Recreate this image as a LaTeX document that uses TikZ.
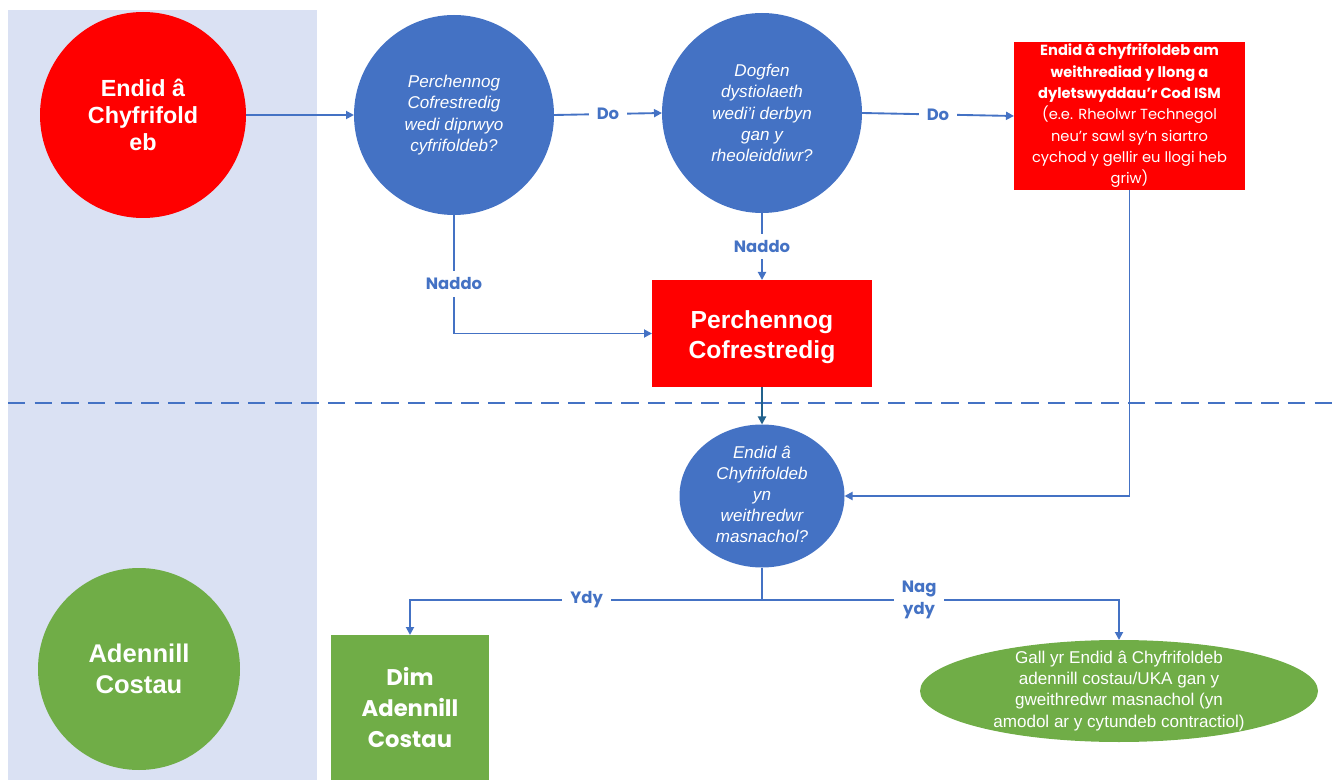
\documentclass[tikz,border=0pt]{standalone}
\usepackage{fontspec}
\setmainfont{Liberation Sans}
\newfontfamily\pop{Poppins}
\usetikzlibrary{arrows.meta,shapes.geometric}
\definecolor{cred}{HTML}{FF0000}
\definecolor{cblue}{HTML}{4472C4}
\definecolor{cgreen}{HTML}{70AD47}
\definecolor{cpanel}{HTML}{DAE1F3}
\definecolor{cteal}{HTML}{21618C}
\newcommand{\zh}[2][-3pt]{\smash{\raisebox{#1}{\begin{tabular}{@{}c@{}}#2\end{tabular}}}}
\begin{document}
\begin{tikzpicture}[x=0.75pt,y=-0.75pt,
  base/.style={inner sep=0pt, outer sep=0pt, text=white, align=center},
  redcirc/.style={base, circle, fill=cred, minimum size=154.5pt, font=\bfseries\fontsize{17.5}{20}\selectfont},
  greencirc/.style={base, circle, fill=cgreen, minimum size=151.5pt, font=\bfseries\fontsize{19.2}{23}\selectfont},
  bluecirc/.style={base, circle, fill=cblue, minimum size=150pt, font=\itshape\fontsize{12.8}{16}\selectfont},
  blueell/.style={base, ellipse, fill=cblue, minimum width=123.75pt, minimum height=107.25pt, font=\itshape\fontsize{12.8}{15.8}\selectfont},
  greenell/.style={base, ellipse, fill=cgreen, minimum width=298.5pt, minimum height=76.5pt, font=\fontsize{12.8}{16}\selectfont},
  redbox/.style={base, rectangle, fill=cred},
  greenbox/.style={base, rectangle, fill=cgreen},
  conn/.style={draw=cblue, line width=1.4pt},
  arr/.style={conn, -{Triangle[length=6pt,width=6pt]}},
  lbl/.style={fill=white, text=cblue, font=\pop\bfseries\fontsize{12.3}{17}\selectfont, inner xsep=6pt, inner ysep=5pt, align=center},
]
\useasboundingbox (0,0) rectangle (1335,780);
\fill[cpanel] (8,10) rectangle (317,780);
\draw[cblue, line width=1.2pt, dash pattern=on 13pt off 7pt] (8,403) -- (1335,403);

\node[redcirc] (ent) at (143,115) {Endid â\\Chyfrifold\\eb};
\node[bluecirc] (b1) at (454,115) {Perchennog\\Cofrestredig\\wedi diprwyo\\cyfrifoldeb?};
\node[bluecirc] (b2) at (762,113) {Dogfen\\dystiolaeth\\wedi’i derbyn\\gan y\\rheoleiddiwr?};
\node[redbox, minimum width=173.25pt, minimum height=111pt, font=\pop\fontsize{11}{16}\selectfont] (tr) at (1129.5,116)
  {\textbf{Endid â chyfrifoldeb am}\\\textbf{weithrediad y llong a}\\\textbf{dyletswyddau’r Cod ISM}\\(e.e. Rheolwr Technegol\\neu’r sawl sy’n siartro\\cychod y gellir eu llogi heb\\griw)};
\node[redbox, minimum width=165pt, minimum height=80.25pt, font=\bfseries\fontsize{18.5}{22.5}\selectfont] (pr) at (762,333.5) {\zh[-7.5pt]{Perchennog\\Cofrestredig}};
\node[blueell] (ell) at (762,496) {\zh{Endid â\\Chyfrifoldeb\\yn\\weithredwr\\masnachol?}};
\node[greencirc] (adn) at (139,669) {Adennill\\Costau};
\node[greenbox, minimum width=118.5pt, minimum height=108.75pt, font=\pop\bfseries\fontsize{17}{23}\selectfont] (dim) at (410,707.5) {Dim\\Adennill\\Costau};
\node[greenell] (gell) at (1119,691) {\zh{Gall yr Endid â Chyfrifoldeb\\adennill costau/UKA gan y\\gweithredwr masnachol (yn\\amodol ar y cytundeb contractiol)}};

\coordinate (split) at (762,600);

\draw[arr] (ent.east) -- (b1.west);
\draw[arr] (b1.east) -- node[lbl] (do1) {Do} (b2.west);
\draw[arr] (b2.east) -- node[lbl] (do2) {Do} (tr.west);
\draw[arr] (b1.south) |- node[lbl, pos=0.29] (naddo1) {Naddo} (pr.west);
\draw[arr] (b2.south) -- node[lbl] (naddo2) {Naddo} (pr.north);
\draw[draw=cteal, line width=1.4pt, -{Triangle[length=6pt,width=6pt]}] (pr.south) -- (ell.north);
\draw[arr] (tr.south) |- (ell.east);
\draw[conn] (ell.south) -- (split);
\draw[arr] (split) -| node[lbl, pos=0.249] (ydy) {Ydy} (dim.north);
\draw[arr] (split) -| node[lbl, pos=0.22] (nag) {Nag\\ydy} (gell.north);
\end{tikzpicture}
\end{document}
